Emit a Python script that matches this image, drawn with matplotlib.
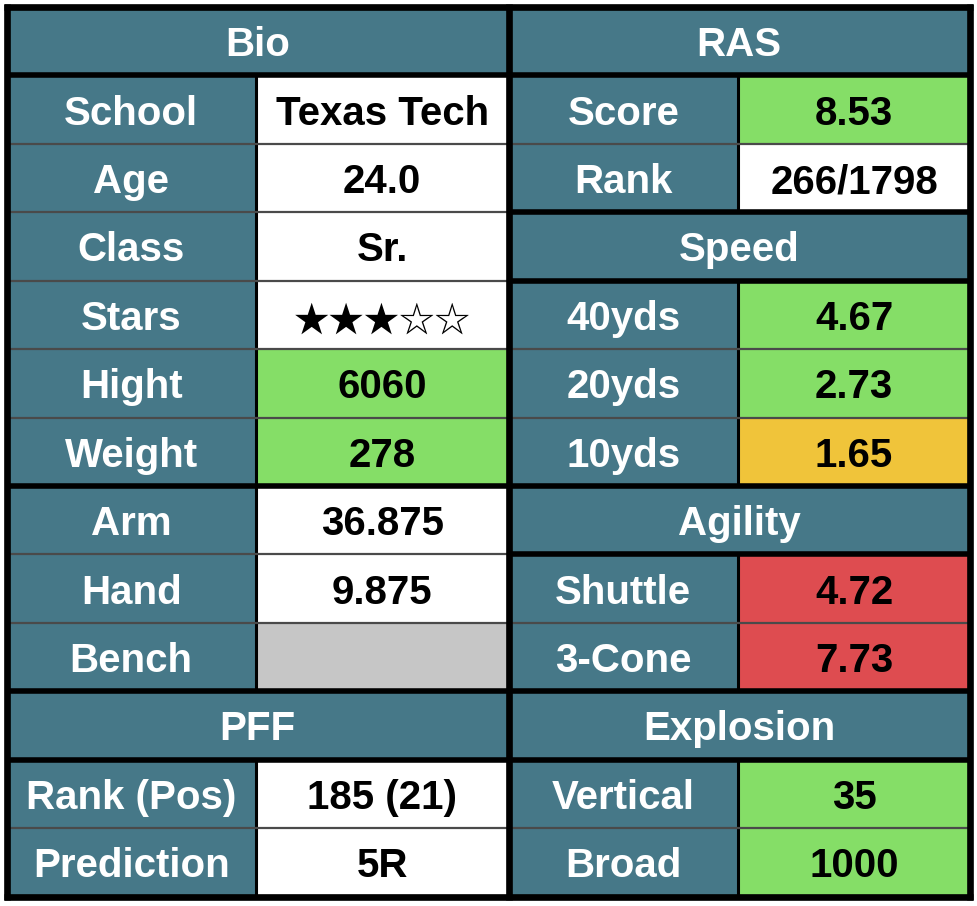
import matplotlib.pyplot as plt
from matplotlib.patches import Rectangle

plt.rcParams['font.family'] = ['Liberation Sans', 'Noto Sans CJK JP', 'DejaVu Sans']

TEAL = '#467888'
GREEN = '#85de67'
YELLOW = '#f0c43a'
RED = '#de4c50'
GRAY = '#c6c6c6'
WHITE = '#ffffff'

# 左側: Bio / PFF
bio_labels = ['School', 'Age', 'Class', 'Stars', 'Hight', 'Weight', 'Arm', 'Hand', 'Bench']
bio_values = ['Texas Tech', '24.0', 'Sr.', '★★★☆☆', '6060', '278', '36.875', '9.875', '']
bio_colors = [WHITE, WHITE, WHITE, WHITE, GREEN, GREEN, WHITE, WHITE, GRAY]

pff_labels = ['Rank (Pos)', 'Prediction']
pff_values = ['185 (21)', '5R']
pff_colors = [WHITE, WHITE]

# 右側: RAS / Speed / Agility / Explosion
ras_labels = ['Score', 'Rank']
ras_values = ['8.53', '266/1798']
ras_colors = [GREEN, WHITE]

speed_labels = ['40yds', '20yds', '10yds']
speed_values = ['4.67', '2.73', '1.65']
speed_colors = [GREEN, GREEN, YELLOW]

agility_labels = ['Shuttle', '3-Cone']
agility_values = ['4.72', '7.73']
agility_colors = [RED, RED]

explosion_labels = ['Vertical', 'Broad']
explosion_values = ['35', '1000']
explosion_colors = [GREEN, GREEN]

# (見出し, ラベル, 値, 色, グループ分け)
left_sections = [
    ('Bio', bio_labels, bio_values, bio_colors, [6, 3]),
    ('PFF', pff_labels, pff_values, pff_colors, [2]),
]
right_sections = [
    ('RAS', ras_labels, ras_values, ras_colors, [2]),
    ('Speed', speed_labels, speed_values, speed_colors, [3]),
    ('Agility', agility_labels, agility_values, agility_colors, [2]),
    ('Explosion', explosion_labels, explosion_values, explosion_colors, [2]),
]


def build_rows(sections):
    rows = []
    for header, labels, values, colors, groups in sections:
        rows.append(['h', header, None, None, True])
        k = 0
        for g in groups:
            for j in range(g):
                rows.append(['c', labels[k], values[k], colors[k], j == g - 1])
                k += 1
    return rows


W, H = 977, 906
fig = plt.figure(figsize=(W / 100, H / 100), dpi=100)
ax = fig.add_axes([0, 0, 1, 1])
ax.set_xlim(0, W)
ax.set_ylim(H, 0)
ax.axis('off')

Y0, Y1 = 7, 896.5
X_OUT_L, X_MID, X_OUT_R = 6.5, 508.5, 970
sides = [
    (build_rows(left_sections), X_OUT_L, 256, X_MID),
    (build_rows(right_sections), X_MID, 738, X_OUT_R),
]
n = len(sides[0][0])
rh = (Y1 - Y0) / n
fs = 29

for rows, xl, xd, xr in sides:
    for i, (kind, label, value, color, thick) in enumerate(rows):
        top = Y0 + i * rh
        yc = top + rh / 2 + 15
        if kind == 'h':
            ax.add_patch(Rectangle((xl, top), xr - xl, rh, color=TEAL, lw=0))
            ax.text((xl + xr) / 2, yc, label, color='white', fontsize=fs,
                    fontweight='bold', ha='center', va='baseline')
        else:
            ax.add_patch(Rectangle((xl, top), xd - xl, rh, color=TEAL, lw=0))
            ax.add_patch(Rectangle((xd, top), xr - xd, rh, color=color, lw=0))
            ax.text((xl + xd) / 2, yc, label, color='white', fontsize=fs,
                    fontweight='bold', ha='center', va='baseline')
            if '★' in value:
                ax.text((xd + xr) / 2, yc + 2, value, color='black', fontsize=25.5,
                        family=['Noto Sans CJK JP', 'DejaVu Sans'],
                        ha='center', va='baseline')
            else:
                ax.text((xd + xr) / 2, yc, value, color='black', fontsize=fs,
                        fontweight='bold', ha='center', va='baseline')
            ax.plot([xd, xd], [top, top + rh], color='black', lw=2.2,
                    solid_capstyle='butt', zorder=3)
    # 横線
    for i, row in enumerate(rows[:-1]):
        y = Y0 + (i + 1) * rh
        if row[4]:
            ax.plot([xl, xr], [y, y], color='black', lw=4, solid_capstyle='butt', zorder=5)
        else:
            ax.plot([xl, xr], [y, y], color='#4a4a4a', lw=1.6, solid_capstyle='butt', zorder=4)

# 外枠
for x in [X_OUT_L, X_MID, X_OUT_R]:
    ax.plot([x, x], [Y0 - 3, Y1 + 3], color='black', lw=4.8, solid_capstyle='butt', zorder=6)
for y in [Y0, Y1]:
    ax.plot([X_OUT_L - 3, X_OUT_R + 3], [y, y], color='black', lw=4.8,
            solid_capstyle='butt', zorder=6)

plt.savefig('out.png', dpi=100)
